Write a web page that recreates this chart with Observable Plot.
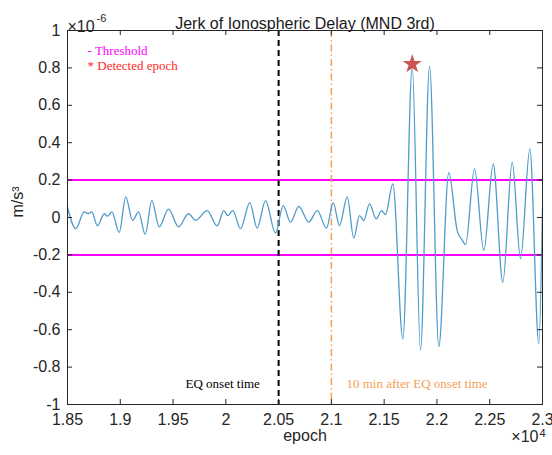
<!DOCTYPE html>
<html><head><meta charset="utf-8">
<script src="https://cdn.jsdelivr.net/npm/d3@7"></script>
<script src="https://cdn.jsdelivr.net/npm/@observablehq/plot@0.6"></script>
<style>body{margin:0;background:#fff}</style>
</head><body><div id="chart"></div>
<script>
// Data (jerk values in units of 1e-6 m/s^3)
const epochs = [18500,18579,18658,18696,18730,18784,18848,18879,18920,18990,19052,19116,19173,19236,19299,19369,19457,19552,19646,19715,19823,19918,19981,20019,20066,20139,20227,20297,20376,20471,20543,20613,20691,20786,20866,20954,21017,21077,21150,21212,21266,21307,21361,21425,21475,21513,21582,21677,21766,21844,21930,22018,22112,22192,22239,22271,22356,22444,22533,22624,22713,22792,22880,22965,23000];
const jerk = [0.055,-0.06,0.03,0.02,0.03,-0.045,0.02,0.007,0.03,-0.08,0.11,-0.015,0.03,-0.09,0.09,-0.05,0.045,-0.05,0.02,-0.015,0.037,-0.045,0.037,0.01,0.037,-0.06,0.08,-0.057,0.09,-0.084,0.064,-0.025,0.06,-0.025,0.037,-0.057,0.08,-0.043,0.11,-0.11,0.01,-0.016,0.073,-0.007,0.037,0.016,0.18,-0.65,0.81,-0.71,0.81,-0.69,0.24,-0.07,-0.12,-0.145,0.26,-0.176,0.287,-0.346,0.296,-0.22,0.367,-0.675,0.055];
const xTicks = [18500,19000,19500,20000,20500,21000,21500,22000,22500,23000];
const xTickLabels = ["1.85","1.9","1.95","2","2.05","2.1","2.15","2.2","2.25","2.3"];
const yTicks = [-1,-0.8,-0.6,-0.4,-0.2,0,0.2,0.4,0.6,0.8,1];
const yTickLabels = ["-1","-0.8","-0.6","-0.4","-0.2","0","0.2","0.4","0.6","0.8","1"];
const thresholds = [0.2,-0.2];
const eqOnset = 20500;
const tenMinAfter = 21000;
const detectedEpoch = 21766;
const detectedValue = 0.82;
const titleText = "Jerk of Ionospheric Delay (MND 3rd)";
const legendTexts = ["- Threshold","* Detected epoch"];
const legendColors = ["#ff00ff","#ff1f1f"];
const legendPos = [{x:18690,y:0.893},{x:18690,y:0.811}];
const lineLabels = ["EQ onset time","10 min after EQ onset time"];
const lineLabelColors = ["#000000","#f4a055"];
const lineLabelPos = [{x:19618,y:-0.888},{x:21143,y:-0.888}];

const W = 552, H = 455, mL = 67, mR = 10, mT = 30, mB = 51;
const plotW = W - mL - mR, plotH = H - mT - mB;
const series = epochs.map((e,i)=>({x:e,y:jerk[i]}));
const axisColor = "#262626";
const serif = "Liberation Serif, Times New Roman, serif";

const chart = Plot.plot({
  width: W, height: H,
  marginLeft: mL, marginRight: mR, marginTop: mT, marginBottom: mB,
  style: {fontFamily: "Liberation Sans, Arial, sans-serif", fontSize: "16px", background: "#fff"},
  x: {domain: [18500, 23000]},
  y: {domain: [-1, 1]},
  marks: [
    Plot.ruleY(thresholds, {stroke: "#ff00ff", strokeWidth: 2}),
    Plot.ruleX([eqOnset], {stroke: "#000", strokeWidth: 2, strokeDasharray: "6,4"}),
    Plot.ruleX([tenMinAfter], {stroke: "#f4a055", strokeWidth: 1.5, strokeDasharray: "7,3,1.5,3"}),
    Plot.line(series, {x: "x", y: "y", stroke: "#4f9bc9", strokeWidth: 1.3, curve: "monotone-x"}),
    Plot.dot([{x: detectedEpoch, y: detectedValue}], {x: "x", y: "y", symbol: "star", r: 6, fill: "#cc5450", stroke: "none"}),
    Plot.frame({stroke: axisColor}),
    Plot.tickX(xTicks.slice(1,-1), {x: d=>d, insetTop: plotH-5, stroke: axisColor}),
    Plot.tickX(xTicks.slice(1,-1), {x: d=>d, insetBottom: plotH-5, stroke: axisColor}),
    Plot.tickY(yTicks.slice(1,-1), {y: d=>d, insetRight: plotW-5, stroke: axisColor}),
    Plot.tickY(yTicks.slice(1,-1), {y: d=>d, insetLeft: plotW-5, stroke: axisColor}),
    Plot.axisX(xTicks, {tickSize: 0, tickPadding: 9, tickFormat: d => xTickLabels[xTicks.indexOf(d)], color: axisColor, fontSize: 16, label: null}),
    Plot.axisY(yTicks, {tickSize: 0, tickPadding: 7, tickFormat: d => yTickLabels[yTicks.indexOf(d)], color: axisColor, fontSize: 16, label: null}),
    Plot.text([titleText], {frameAnchor: "top", dy: -13, fontSize: 16, fill: "#1a1a1a"}),
    Plot.text(["\u00d710"], {frameAnchor: "top-left", textAnchor: "start", dx: 0, dy: -10, fontSize: 16, fill: axisColor}),
    Plot.text(["-6"], {frameAnchor: "top-left", textAnchor: "start", dx: 29, dy: -16, fontSize: 11, fill: axisColor}),
    Plot.text(["epoch"], {frameAnchor: "bottom", dy: 36, fontSize: 16, fill: axisColor}),
    Plot.text(["\u00d710"], {frameAnchor: "bottom-right", textAnchor: "end", dx: -4, dy: 37, fontSize: 16, fill: axisColor}),
    Plot.text(["4"], {frameAnchor: "bottom-right", textAnchor: "start", dx: -3, dy: 32, fontSize: 11, fill: axisColor}),
    Plot.text(["m/s\u00b3"], {frameAnchor: "left", dx: -50, rotate: -90, fontSize: 16, fill: axisColor}),
    ...legendTexts.map((t,i) => Plot.text([legendPos[i]], {x: "x", y: "y", text: () => t, fill: legendColors[i], textAnchor: "start", fontFamily: serif, fontSize: 13})),
    ...lineLabels.map((t,i) => Plot.text([lineLabelPos[i]], {x: "x", y: "y", text: () => t, fill: lineLabelColors[i], textAnchor: "start", fontFamily: serif, fontSize: 13}))
  ]
});
document.getElementById("chart").appendChild(chart);
</script>
</body></html>
